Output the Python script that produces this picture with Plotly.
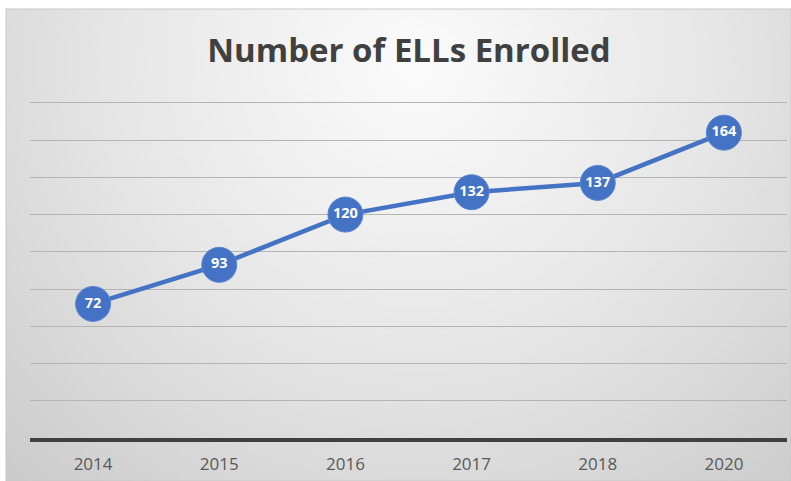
import base64
import plotly.graph_objects as go

years = ["2014", "2015", "2016", "2017", "2018", "2020"]
enrolled = [72, 93, 120, 132, 137, 164]
title_text = "Number of ELLs Enrolled"

W, H = 791, 481
ML, MR, MT, MB = 30, 4, 101, 43

svg = f'''<svg xmlns="http://www.w3.org/2000/svg" width="{W}" height="{H}" viewBox="0 0 {W} {H}">
<defs>
<radialGradient id="g" cx="0.52" cy="0.12" r="0.85" gradientUnits="objectBoundingBox" gradientTransform="translate(0.52 0.12) scale(1 1.6) translate(-0.52 -0.12)">
<stop offset="0" stop-color="#fbfbfb"/>
<stop offset="0.45" stop-color="#e6e6e6"/>
<stop offset="1" stop-color="#c4c4c4"/>
</radialGradient>
</defs>
<rect x="0" y="0" width="{W}" height="{H}" fill="#ffffff"/>
<rect x="6" y="9" width="{W-6}" height="{H-9}" fill="url(#g)" stroke="#c8c8c8" stroke-width="1"/>
</svg>'''
src = "data:image/svg+xml;base64," + base64.b64encode(svg.encode()).decode()

pw, ph = W - ML - MR, H - MT - MB

fig = go.Figure()
fig.add_trace(go.Scatter(
    x=years, y=enrolled,
    mode="lines+markers+text",
    line=dict(color="#4472C4", width=4.5),
    marker=dict(size=35, color="#4472C4", line=dict(color="#5b85d0", width=1)),
    text=[str(v) for v in enrolled],
    textposition="middle center",
    textfont=dict(family="Open Sans, sans-serif", size=14.5, color="white", weight="bold"),
    hoverinfo="skip",
))

fig.update_layout(
    width=W, height=H,
    margin=dict(l=ML, r=MR, t=MT, b=MB),
    paper_bgcolor="rgba(0,0,0,0)",
    plot_bgcolor="rgba(0,0,0,0)",
    showlegend=False,
    images=[dict(source=src, xref="paper", yref="paper", x=-ML/pw, y=1+MT/ph,
                 sizex=W/pw, sizey=H/ph, xanchor="left", yanchor="top",
                 sizing="stretch", layer="below")],
    title=dict(text="<b>" + title_text + "</b>", x=409/W, xanchor="center",
               y=1-50/H, yanchor="middle", yref="container",
               font=dict(family="Open Sans, sans-serif", size=33, color="#404040")),
    xaxis=dict(type="category", showgrid=False, showline=True, linecolor="#404040", linewidth=4,
               ticks="", ticklabelstandoff=8,
               tickfont=dict(family="Open Sans, sans-serif", size=17, color="#595959"),
               range=[-0.5, 5.5], zeroline=False),
    yaxis=dict(range=[0, 181], dtick=20, showgrid=True, gridcolor="#b4b4b4", gridwidth=1,
               showticklabels=False, zeroline=False, ticks=""),
)

fig.write_html("out.html", config={"displayModeBar": False},
               post_script="document.body.style.margin='0';")
